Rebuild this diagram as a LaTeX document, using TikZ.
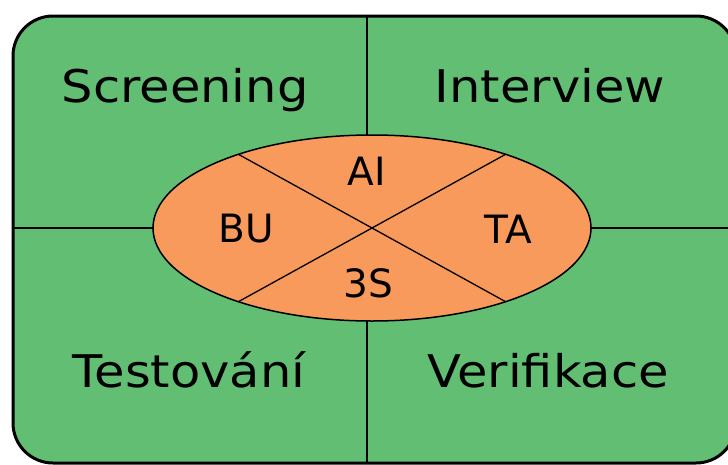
\documentclass[tikz,border=0pt]{standalone}
\usepackage{fontspec}
\setmainfont{DejaVu Sans}
\usetikzlibrary{shapes.geometric,calc}
\definecolor{panelgreen}{RGB}{98,190,115}
\definecolor{coreorange}{RGB}{247,154,92}
\tikzset{
  quadlabel/.style={anchor=base, inner sep=0pt, font=\fontsize{45}{54}\selectfont},
  corelabel/.style={anchor=base, inner sep=0pt, font=\fontsize{39}{47}\selectfont},
  divider/.style={draw=black, line width=1.5pt},
}
\newcommand{\widen}[1]{\scalebox{1.1}[1]{#1}}
\begin{document}
\begin{tikzpicture}[x=1pt, y=-1pt]
  \useasboundingbox (0,0) rectangle (728,464);
  % outer panel
  \draw[fill=panelgreen, line width=3pt, rounded corners=40pt] (13,16) rectangle (736,463);
  % quadrant dividers
  \coordinate (top) at (367,16);
  \coordinate (bottom) at (367,463);
  \coordinate (left) at (13,228);
  \coordinate (right) at (736,228);
  \draw[divider] (top) -- (bottom);
  \draw[divider] (left) -- (right);
  % central ellipse
  \node[ellipse, draw=black, line width=1.5pt, fill=coreorange, inner sep=0pt,
        minimum width=438pt, minimum height=186pt] (core) at (372,228) {};
  \coordinate (ul) at ($(core.center)+(-133.6,-73.7)$);
  \coordinate (ur) at ($(core.center)+(133.6,-73.7)$);
  \coordinate (ll) at ($(core.center)+(-133.6,73.7)$);
  \coordinate (lr) at ($(core.center)+(133.6,73.7)$);
  \draw[line width=1.3pt] (ul) -- (lr);
  \draw[line width=1.3pt] (ur) -- (ll);
  % quadrant labels
  \node[quadlabel] (screening) at (185,102) {\widen{Screening}};
  \node[quadlabel] (interview) at (550,102) {\widen{Interview}};
  \node[quadlabel] (testovani) at (189,387) {\widen{Testování}};
  \node[quadlabel] (verifikace) at (548,387) {\widen{Verifikace}};
  % ellipse labels
  \node[corelabel] (ai) at (367,185) {AI};
  \node[corelabel] (bu) at (246,242) {BU};
  \node[corelabel] (ta) at (508,243) {TA};
  \node[corelabel] (ss) at (368,297) {3S};
\end{tikzpicture}
\end{document}
